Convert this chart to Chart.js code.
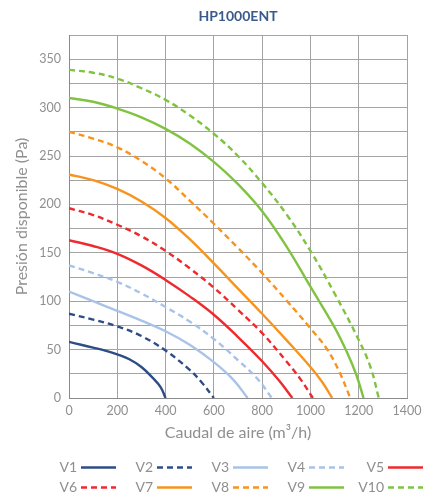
<!DOCTYPE html>
<html>
<head>
<meta charset="utf-8">
<script src="https://cdn.jsdelivr.net/npm/chart.js@4.4.1/dist/chart.umd.min.js"></script>
<style>
  body { margin: 0; background: #fff; }
  canvas { display: block; }
</style>
</head>
<body>
<canvas id="chart" width="431" height="500"></canvas>
<script>
// curve data (caudal m3/h, presion Pa)
const v1Flow = [0, 50, 100, 150, 200, 250, 300, 350, 380, 400];
const v1Pres = [58, 55, 52, 49, 45, 40, 32, 20, 11, 0];
const v2Flow = [0, 100, 200, 300, 400, 500, 550, 600];
const v2Pres = [87, 81, 74, 64, 49, 29, 16, 0];
const v3Flow = [0, 100, 200, 300, 400, 500, 600, 680, 740];
const v3Pres = [110, 100, 90, 80, 69, 55, 37, 19, 0];
const v4Flow = [0, 100, 200, 300, 400, 500, 600, 700, 780, 840];
const v4Pres = [137, 129, 120, 108, 94, 79, 61, 39, 20, 0];
const v5Flow = [0, 100, 200, 300, 400, 500, 600, 700, 800, 870, 925];
const v5Pres = [163, 157, 149, 137, 122, 105, 86, 63, 38, 18, 0];
const v6Flow = [0, 100, 200, 300, 400, 500, 600, 700, 800, 900, 960, 1010];
const v6Pres = [196, 189, 179, 167, 152, 134, 114, 91, 67, 38, 19, 0];
const v7Flow = [0, 100, 200, 300, 400, 500, 600, 700, 800, 900, 1000, 1050, 1090];
const v7Pres = [231, 225, 216, 203, 186, 164, 139, 113, 87, 60, 32, 16, 0];
const v8Flow = [0, 100, 200, 300, 400, 500, 600, 700, 800, 900, 1000, 1070, 1120, 1165];
const v8Pres = [275, 268, 259, 245, 227, 204, 180, 155, 129, 101, 72, 50, 27, 0];
const v9Flow = [0, 100, 200, 300, 400, 500, 600, 700, 800, 900, 1000, 1100, 1150, 1190, 1220];
const v9Pres = [310, 306, 299, 290, 278, 263, 244, 221, 193, 157, 115, 73, 48, 24, 0];
const v10Flow = [0, 100, 200, 300, 400, 500, 600, 700, 800, 900, 1000, 1100, 1200, 1250, 1283];
const v10Pres = [339, 336, 330, 320, 308, 292, 273, 250, 222, 190, 152, 108, 60, 31, 0];

const seriesNames = ['V1', 'V2', 'V3', 'V4', 'V5', 'V6', 'V7', 'V8', 'V9', 'V10'];
const flows = [v1Flow, v2Flow, v3Flow, v4Flow, v5Flow, v6Flow, v7Flow, v8Flow, v9Flow, v10Flow];
const pressures = [v1Pres, v2Pres, v3Pres, v4Pres, v5Pres, v6Pres, v7Pres, v8Pres, v9Pres, v10Pres];
const colors = ['#2e4d86', '#2e4d86', '#a9c3e8', '#a9c3e8', '#ee2a2e', '#ee2a2e',
                '#f7941e', '#f7941e', '#80c342', '#80c342'];

const chartTitle = 'HP1000ENT';
const xTitle = 'Caudal de aire (m³/h)';
const yTitle = 'Presión disponible (Pa)';
const textGrey = '#8f8f8f';
const fontName = 'Lato';

const datasets = seriesNames.map((name, i) => ({
  label: name,
  data: flows[i].map((f, j) => ({x: f, y: pressures[i][j]})),
  borderColor: colors[i],
  backgroundColor: colors[i],
  borderWidth: 2.4,
  borderDash: i % 2 === 1 ? [6, 4] : [],
  pointRadius: 0,
  tension: 0.4,
  fill: false
}));

// title over the plot area + legend with text before the line sample
const extras = {
  id: 'extras',
  afterDraw(chart) {
    const ctx = chart.ctx;
    const area = chart.chartArea;
    ctx.save();
    ctx.fillStyle = '#3b5a8c';
    ctx.font = 'bold 14px ' + fontName;
    ctx.textAlign = 'center';
    ctx.textBaseline = 'middle';
    ctx.fillText(chartTitle, (area.left + area.right) / 2, 16);

    const lineStarts = [81, 157, 233, 309, 388];
    ctx.font = '14px ' + fontName;
    ctx.textAlign = 'right';
    chart.data.datasets.forEach((ds, i) => {
      const col = i % 5;
      const row = Math.floor(i / 5);
      const x = lineStarts[col];
      const y = 467.5 + row * 20;
      ctx.fillStyle = textGrey;
      ctx.fillText(ds.label, x - 4, y);
      ctx.strokeStyle = ds.borderColor;
      ctx.lineWidth = 2.4;
      ctx.setLineDash(ds.borderDash);
      ctx.beginPath();
      ctx.moveTo(x, y);
      ctx.lineTo(x + 35, y);
      ctx.stroke();
    });
    ctx.restore();
  }
};

new Chart(document.getElementById('chart'), {
  type: 'line',
  data: { datasets: datasets },
  plugins: [extras],
  options: {
    responsive: false,
    animation: false,
    layout: { padding: { left: 8, top: 35, right: 24, bottom: 54 } },
    plugins: {
      legend: { display: false },
      title: { display: false },
      tooltip: { enabled: false }
    },
    scales: {
      x: {
        type: 'linear',
        min: 0,
        max: 1400,
        ticks: {
          stepSize: 200,
          color: textGrey,
          font: { family: fontName, size: 12.5 },
          padding: 5,
          maxRotation: 0,
          callback: v => String(v)
        },
        grid: { color: '#a3a3a3', drawTicks: false },
        border: { color: '#8a8a8a' },
        title: { display: true, text: xTitle, color: textGrey, font: { family: fontName, size: 16 } },
        afterFit(scale) { scale.height = 48; }
      },
      y: {
        min: 0,
        max: 375,
        ticks: {
          stepSize: 25,
          color: textGrey,
          font: { family: fontName, size: 12.5 },
          padding: 8,
          callback: v => (v % 50 === 0 ? String(v) : '')
        },
        grid: { color: '#a3a3a3', drawTicks: false },
        border: { color: '#8a8a8a' },
        title: { display: true, text: yTitle, color: textGrey, font: { family: fontName, size: 16 } },
        afterFit(scale) { scale.width = 61; }
      }
    }
  }
});
</script>
</body>
</html>
